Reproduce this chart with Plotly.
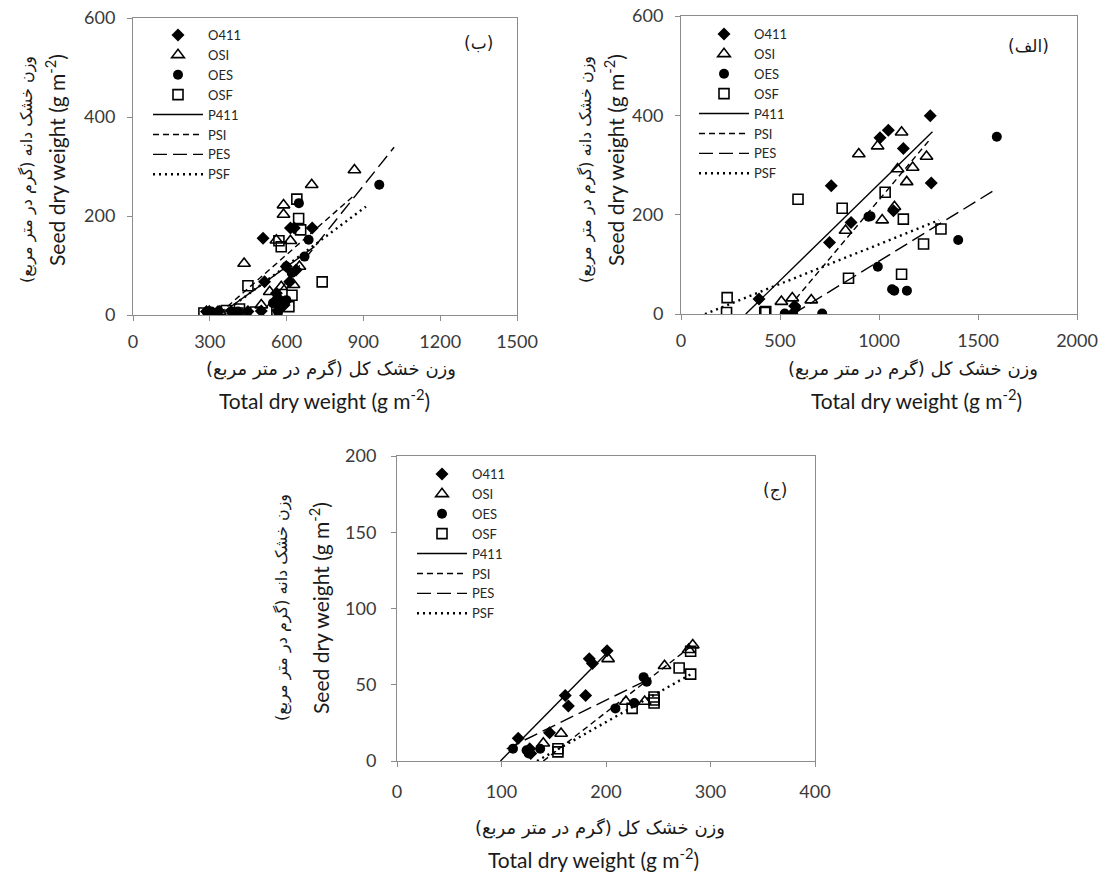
import plotly.graph_objects as go

# ---------------- Panel (ب) : top-left ----------------
b_o411_x = [508, 615, 630, 700, 599, 612, 514, 560, 637, 287, 332, 449, 501, 566, 590, 575]
b_o411_y = [155, 176, 176, 176, 98, 67, 67, 44, 91, 7, 7, 7, 8, 9, 20, 30]
b_osi_x = [865, 698, 588, 588, 434, 560, 650, 627, 534, 579, 501, 339, 298, 615]
b_osi_y = [293, 263, 222, 203, 104, 151, 98, 61, 47, 57, 20, 7, 7, 150]
b_oes_x = [962, 648, 686, 670, 599, 560, 547, 566, 384, 410, 306, 599, 620]
b_oes_y = [263, 226, 152, 118, 98, 30, 24, 7, 7, 7, 7, 30, 85]
b_osf_x = [640, 647, 655, 579, 570, 739, 449, 621, 609, 365, 277, 410, 479, 416, 562]
b_osf_y = [234, 195, 172, 138, 150, 67, 59, 40, 17, 9, 4, 4, 6, 12, 9]
b_p411_x = [350, 709]
b_p411_y = [5, 138]
b_psi_x = [340, 858]
b_psi_y = [4, 239]
b_pes_x = [520, 1020]
b_pes_y = [15, 339]
b_psf_x = [360, 910]
b_psf_y = [7, 219]

# ---------------- Panel (الف) : top-right ----------------
a_o411_x = [1259, 1047, 1005, 1123, 1264, 759, 1073, 859, 750, 394, 574]
a_o411_y = [399, 370, 355, 333, 264, 258, 208, 184, 144, 30, 16]
a_osi_x = [1114, 993, 898, 1240, 1170, 1094, 1140, 1016, 831, 1078, 507, 562, 658]
a_osi_y = [366, 338, 322, 317, 295, 292, 266, 189, 168, 216, 25, 32, 28]
a_oes_x = [1595, 957, 947, 1400, 994, 1066, 1077, 1141, 713, 524, 566, 580]
a_oes_y = [357, 197, 196, 149, 95, 50, 47, 47, 1, 1, 1, 13]
a_osf_x = [591, 814, 1031, 1123, 1313, 1225, 846, 1114, 233, 230, 423, 428]
a_osf_y = [231, 213, 245, 191, 171, 141, 72, 80, 33, 3, 3, 5]
a_p411_x = [327, 1270]
a_p411_y = [0, 367]
a_psi_x = [515, 1254]
a_psi_y = [0, 350]
a_pes_x = [566, 1598]
a_pes_y = [0, 253]
a_psf_x = [121, 1304]
a_psf_y = [0, 189]

# ---------------- Panel (ج) : bottom ----------------
c_o411_x = [201, 184, 187, 161, 180.5, 164, 146, 116, 127, 128]
c_o411_y = [72.3, 67, 64, 43, 43, 36, 18.5, 15, 8, 5]
c_osi_x = [202, 283, 279, 256, 219, 237, 157, 140]
c_osi_y = [67, 76, 73, 62.5, 39, 39, 18, 11.6]
c_oes_x = [236, 239, 209, 227, 111, 124, 137, 126]
c_oes_y = [55, 52, 34.5, 38, 8, 7, 8, 5]
c_osf_x = [281, 270, 281, 225, 246, 246, 246, 154, 154]
c_osf_y = [72, 61, 57, 34.5, 40, 38, 42, 6, 8]
c_p411_x = [99, 201]
c_p411_y = [0, 71]
c_psi_x = [140, 283]
c_psi_y = [0, 76]
c_pes_x = [105, 242]
c_pes_y = [8, 54]
c_psf_x = [134, 284]
c_psf_y = [0, 58]

series_names = ["O411", "OSI", "OES", "OSF", "P411", "PSI", "PES", "PSF"]

W, H = 1101, 874
FONT = "Lato, 'Open Sans', sans-serif"
AR_FONT = "'DejaVu Sans', sans-serif"
AXC = "#8c8c8c"

fig = go.Figure()

panels = [
    ("", "legend", [b_o411_x, b_o411_y, b_osi_x, b_osi_y, b_oes_x, b_oes_y, b_osf_x, b_osf_y,
                    b_p411_x, b_p411_y, b_psi_x, b_psi_y, b_pes_x, b_pes_y, b_psf_x, b_psf_y]),
    ("2", "legend2", [a_o411_x, a_o411_y, a_osi_x, a_osi_y, a_oes_x, a_oes_y, a_osf_x, a_osf_y,
                      a_p411_x, a_p411_y, a_psi_x, a_psi_y, a_pes_x, a_pes_y, a_psf_x, a_psf_y]),
    ("3", "legend3", [c_o411_x, c_o411_y, c_osi_x, c_osi_y, c_oes_x, c_oes_y, c_osf_x, c_osf_y,
                      c_p411_x, c_p411_y, c_psi_x, c_psi_y, c_pes_x, c_pes_y, c_psf_x, c_psf_y]),
]

marker_styles = [
    dict(symbol="diamond", size=10, color="black"),
    dict(symbol="triangle-up-open", size=11, color="black", line=dict(width=1.6, color="black")),
    dict(symbol="circle", size=10, color="black"),
    dict(symbol="square-open", size=10, color="black", line=dict(width=1.6, color="black")),
]
line_styles = [
    dict(color="black", width=1.4, dash="solid"),
    dict(color="black", width=1.4, dash="6px,4px"),
    dict(color="black", width=1.4, dash="14px,6px"),
    dict(color="black", width=2.4, dash="2px,4px"),
]

for suf, leg, d in panels:
    xa = "x" + suf
    ya = "y" + suf
    for i in range(4):
        fig.add_trace(go.Scatter(x=d[2 * i], y=d[2 * i + 1], mode="markers", name=series_names[i],
                                 marker=marker_styles[i], xaxis=xa, yaxis=ya, legend=leg))
    for i in range(4):
        fig.add_trace(go.Scatter(x=d[8 + 2 * i], y=d[8 + 2 * i + 1], mode="lines",
                                 name=series_names[4 + i], line=line_styles[i],
                                 xaxis=xa, yaxis=ya, legend=leg))


def px_x(p):
    return p / W


def px_y(p):
    return 1 - p / H


def axis_common(rng, dtick, dom, anchor, standoff):
    return dict(range=rng, dtick=dtick, tick0=0, domain=dom, anchor=anchor,
                showgrid=False, zeroline=False, showline=True, linecolor=AXC, linewidth=1,
                mirror=True, ticks="outside", ticklen=5, tickcolor=AXC, tickwidth=1,
                ticklabelstandoff=standoff,
                tickfont=dict(family=FONT, size=18, color="#3a3a3a"), automargin=False,
                fixedrange=True)


fig.update_layout(
    xaxis=axis_common([0, 1500], 300, [px_x(133), px_x(517)], "y", 5),
    yaxis=axis_common([0, 600], 200, [px_y(315), px_y(18)], "x", 8),
    xaxis2=axis_common([0, 2000], 500, [px_x(681), px_x(1077)], "y2", 5),
    yaxis2=axis_common([0, 600], 200, [px_y(314), px_y(16)], "x2", 8),
    xaxis3=axis_common([0, 400], 100, [px_x(397), px_x(815)], "y3", 9),
    yaxis3=axis_common([0, 200], 50, [px_y(761), px_y(456)], "x3", 11),
)

leg_common = dict(bgcolor="rgba(0,0,0,0)", borderwidth=0, itemwidth=50,
                  font=dict(family=FONT, size=13, color="#262626"),
                  xanchor="left", yanchor="top", tracegroupgap=0, itemclick=False,
                  itemdoubleclick=False)
fig.update_layout(
    legend=dict(x=px_x(148), y=px_y(20), **leg_common),
    legend2=dict(x=px_x(694), y=px_y(19), **leg_common),
    legend3=dict(x=px_x(412), y=px_y(459), **leg_common),
)

ar_title = "وزن خشک دانه (گرم در متر مربع)"
en_ytitle = "Seed dry weight (g m<sup>-2</sup>)"
ar_xtitle = "وزن خشک کل (گرم در متر مربع)"
en_xtitle = "Total dry weight (g m<sup>-2</sup>)"

ann = []


def add_text(text, x, y, size, family, angle=0):
    ann.append(dict(text=text, x=px_x(x), y=px_y(y), xref="paper", yref="paper",
                    showarrow=False, textangle=angle, xanchor="center", yanchor="middle",
                    font=dict(family=family, size=size, color="#1a1a1a")))


# y titles
add_text(ar_title, 27, 170, 16, AR_FONT, -90)
add_text(en_ytitle, 55, 160, 21, FONT, -90)
add_text(ar_title, 586, 170, 16, AR_FONT, -90)
add_text(en_ytitle, 614, 160, 21, FONT, -90)
add_text(ar_title, 282, 608, 16, AR_FONT, -90)
add_text(en_ytitle, 319, 608, 21, FONT, -90)
# x titles
add_text(ar_xtitle, 331, 369, 18, AR_FONT)
add_text(en_xtitle, 325, 399, 21, FONT)
add_text(ar_xtitle, 913, 369, 18, AR_FONT)
add_text(en_xtitle, 916, 399, 21, FONT)
add_text(ar_xtitle, 600, 828, 18, AR_FONT)
add_text(en_xtitle, 593, 858, 21, FONT)
# panel letters
add_text("(ب)", 478, 43, 17, AR_FONT)
add_text("(الف)", 1028, 46, 17, AR_FONT)
add_text("(ج)", 775, 490, 17, AR_FONT)

fig.update_layout(
    annotations=ann,
    width=W, height=H,
    margin=dict(l=0, r=0, t=0, b=0),
    paper_bgcolor="white", plot_bgcolor="white",
    showlegend=True,
)

fig.write_html("out.html", config={"displayModeBar": False},
               post_script="document.body.style.margin='0';document.body.style.overflow='hidden';")
